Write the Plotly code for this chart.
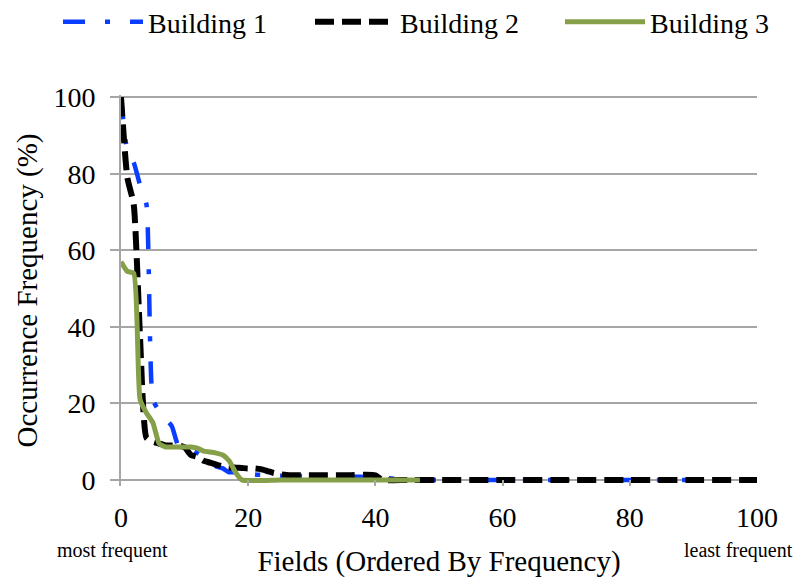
import plotly.graph_objects as go

# ---- data ----
b1_x = [0, 1, 2, 3, 4, 5, 6, 7, 8, 9, 10, 11, 12, 13, 14, 15, 16, 17, 18, 19, 20,
        21, 22, 23, 24, 25, 26, 27, 28, 29, 30, 35, 40, 45, 50, 60, 70, 80, 90, 100]
b1_y = [100, 86, 83, 77, 72, 21, 18, 16, 14, 9, 8.5, 8, 7, 6, 5, 3.5, 3, 2, 2, 1.8, 1.6,
        1.4, 1.3, 1.2, 1.2, 1.1, 1.1, 1, 1, 1, 1, 0.9, 0.7, 0, 0, 0, 0, 0, 0, 0]

b2_x = [0, 1, 2, 3, 4, 5, 6, 7, 8, 9, 10, 11, 12, 13, 14, 15, 16, 17, 18, 19, 20,
        21, 22, 23, 24, 25, 26, 27, 28, 29, 30, 35, 40, 41, 45, 50, 60, 70, 80, 90, 100]
b2_y = [100, 79, 72, 37, 11, 10, 9.5, 9, 9, 9, 8.5, 6.5, 6, 5, 4.5, 4, 3.5, 3.3, 3.2, 3.1, 3,
        3, 2.8, 2.3, 1.8, 1.5, 1.3, 1.2, 1.2, 1.2, 1.2, 1.2, 1.2, 0, 0, 0, 0, 0, 0, 0, 0]

b3_x = [0, 1, 2, 3, 4, 5, 6, 7, 8, 9, 10, 11, 12, 13, 14, 15, 16, 17, 18, 19,
        25, 30, 35, 40, 47]
b3_y = [57, 54.5, 54, 21, 17.5, 15, 9.5, 8.6, 8.6, 8.6, 8.6, 8.6, 8.3, 7.5, 7.3, 7, 6.5, 5, 2, 0,
        0, 0, 0, 0, 0]

series_names = ["Building 1", "Building 2", "Building 3"]
x_ticks = [0, 20, 40, 60, 80, 100]
y_ticks = [0, 20, 40, 60, 80, 100]

FONT = "Liberation Serif"
GRID = "#A6A6A6"

# plot area in pixels
L, R, T, B = 121, 37, 95, 92
W, H = 794, 578
PW, PH = W - L - R, H - T - B


def px_x(p):
    return (p - L) / PW


def px_y(p):
    return 1 - (p - T) / PH


fig = go.Figure()
fig.add_trace(go.Scatter(x=b1_x, y=b1_y, mode="lines", name=series_names[0], legend="legend",
                         line=dict(color="#0A3DFF", width=4.5, dash="22px,20px,5px,20px",
                                   shape="spline", smoothing=0.5)))
fig.add_trace(go.Scatter(x=b2_x, y=b2_y, mode="lines", name=series_names[1], legend="legend2",
                         line=dict(color="#000000", width=6, dash="19px,8px",
                                   shape="spline", smoothing=0.5)))
fig.add_trace(go.Scatter(x=b3_x, y=b3_y, mode="lines", name=series_names[2], legend="legend3",
                         line=dict(color="#86A04A", width=5, shape="spline", smoothing=0.5)))

leg_common = dict(orientation="h", xanchor="left", yanchor="middle", y=px_y(22),
                  font=dict(family=FONT, size=28), itemwidth=80,
                  bgcolor="rgba(0,0,0,0)")

fig.update_layout(
    width=W, height=H,
    margin=dict(l=L, r=R, t=T, b=B, autoexpand=False),
    paper_bgcolor="white", plot_bgcolor="white",
    font=dict(family=FONT, size=28, color="black"),
    showlegend=True,
    legend=dict(x=px_x(58), **leg_common),
    legend2=dict(x=px_x(310), **leg_common),
    legend3=dict(x=px_x(560), **leg_common),
    xaxis=dict(range=[0, 100], tickvals=x_ticks, ticks="inside", ticklen=6, tickwidth=2,
               tickcolor=GRID, showline=False, showgrid=False, zeroline=False,
               tickfont=dict(family=FONT, size=28), ticklabelstandoff=12,
               title=dict(text="Fields (Ordered By Frequency)", font=dict(family=FONT, size=29),
                          standoff=18)),
    yaxis=dict(range=[-1.6, 100.6], tickvals=y_ticks, ticks="outside", ticklen=9, tickwidth=2,
               tickcolor=GRID, showline=True, linecolor=GRID, linewidth=2,
               showgrid=True, gridcolor=GRID, gridwidth=2, zeroline=False,
               tickfont=dict(family=FONT, size=28), ticklabelstandoff=9,
               title=dict(text="Occurrence Frequency (%)", font=dict(family=FONT, size=29),
                          standoff=7)),
    annotations=[
        dict(text="most frequent", x=px_x(112), y=px_y(550), xref="paper", yref="paper",
             xanchor="center", yanchor="middle",
             showarrow=False, font=dict(family=FONT, size=20)),
        dict(text="least frequent", x=px_x(738), y=px_y(550), xref="paper", yref="paper",
             xanchor="center", yanchor="middle",
             showarrow=False, font=dict(family=FONT, size=20)),
    ],
)

fig.write_html("out.html", config={"displayModeBar": False},
               post_script="document.body.style.margin='0px';document.body.style.padding='0px';")
